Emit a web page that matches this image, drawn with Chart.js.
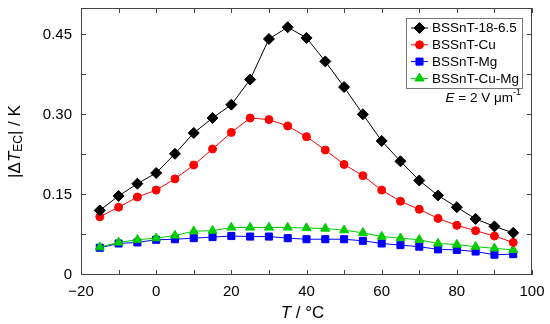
<!DOCTYPE html>
<html>
<head>
<meta charset="utf-8">
<script src="https://cdn.jsdelivr.net/npm/chart.js@4/dist/chart.umd.min.js"></script>
<style>
html, body { margin: 0; padding: 0; background: #fff; }
</style>
</head>
<body>
<canvas id="ecChart" width="550" height="324"></canvas>
<script>
// temperature (°C) and |dT_EC| (K) for each sample
const temps = [-15, -10, -5, 0, 5, 10, 15, 20, 25, 30, 35, 40, 45, 50, 55, 60, 65, 70, 75, 80, 85, 90, 95];
const bssnt = [0.121, 0.148, 0.171, 0.191, 0.227, 0.266, 0.294, 0.319, 0.366, 0.442, 0.464, 0.444, 0.400, 0.352, 0.301, 0.251, 0.213, 0.177, 0.149, 0.127, 0.105, 0.091, 0.079];
const bssntCu = [0.109, 0.127, 0.146, 0.159, 0.180, 0.206, 0.236, 0.267, 0.294, 0.291, 0.279, 0.259, 0.234, 0.207, 0.186, 0.159, 0.138, 0.123, 0.106, 0.093, 0.083, 0.073, 0.061];
const bssntMg = [0.051, 0.059, 0.061, 0.066, 0.067, 0.069, 0.071, 0.073, 0.072, 0.072, 0.069, 0.067, 0.067, 0.067, 0.064, 0.059, 0.056, 0.053, 0.048, 0.047, 0.044, 0.038, 0.039];
const bssntCuMg = [0.052, 0.061, 0.066, 0.069, 0.074, 0.082, 0.083, 0.089, 0.089, 0.089, 0.089, 0.088, 0.087, 0.084, 0.079, 0.072, 0.069, 0.066, 0.059, 0.057, 0.053, 0.050, 0.047];

const seriesNames = ["BSSnT-18-6.5", "BSSnT-Cu", "BSSnT-Mg", "BSSnT-Cu-Mg"];
const xTicks = [-20, 0, 20, 40, 60, 80, 100];
const yTicks = [0, 0.15, 0.30, 0.45];

const FONT = "'Liberation Sans', Arial, sans-serif";

function pts(vals) {
  return temps.map((t, i) => ({ x: t, y: vals[i] }));
}

// draw a run of text pieces with their own fonts / offsets
function drawRich(ctx, parts, x, y, align) {
  let total = 0;
  parts.forEach(p => { ctx.font = p.font; p.w = ctx.measureText(p.t).width; total += p.w; });
  let cx = align === "center" ? x - total / 2 : align === "right" ? x - total : x;
  parts.forEach(p => {
    ctx.font = p.font;
    ctx.fillText(p.t, cx, y + (p.dy || 0));
    cx += p.w;
  });
}

const framePlugin = {
  id: "frame",
  afterDraw(chart) {
    const { ctx, chartArea: a, scales } = chart;
    const x = scales.x, y = scales.y;
    ctx.save();
    ctx.strokeStyle = "#444";
    ctx.lineWidth = 1;
    ctx.strokeRect(a.left + 0.5, a.top + 0.5, a.right - a.left - 1, a.bottom - a.top - 1);

    // inward ticks on all four sides
    ctx.beginPath();
    for (let v = -20; v <= 100; v += 10) {
      const px = Math.round(x.getPixelForValue(v)) + 0.5;
      ctx.moveTo(px, a.bottom); ctx.lineTo(px, a.bottom - 5);
      ctx.moveTo(px, a.top); ctx.lineTo(px, a.top + 5);
    }
    for (let i = 0; i <= 6; i++) {
      const py = Math.round(y.getPixelForValue(i * 0.075)) - 0.5;
      ctx.moveTo(a.left, py); ctx.lineTo(a.left + 5, py);
      ctx.moveTo(a.right, py); ctx.lineTo(a.right - 5, py);
    }
    ctx.stroke();

    // axis titles
    ctx.fillStyle = "#000";
    ctx.textBaseline = "middle";
    drawRich(ctx, [
      { t: "T", font: "italic 17px " + FONT },
      { t: " / °C", font: "17px " + FONT }
    ], (a.left + a.right) / 2 - 4, 313, "center");

    ctx.save();
    ctx.translate(15, (a.top + a.bottom) / 2);
    ctx.rotate(-Math.PI / 2);
    drawRich(ctx, [
      { t: "|Δ", font: "17px " + FONT },
      { t: "T", font: "italic 17px " + FONT },
      { t: "EC", font: "12px " + FONT, dy: 4 },
      { t: "| / K", font: "17px " + FONT }
    ], 0, 0, "center");
    ctx.restore();

    // legend
    const lx = 406, ly = 18, lw = 116, lh = 70;
    ctx.fillStyle = "#fff";
    ctx.fillRect(lx, ly, lw, lh);
    ctx.strokeStyle = "#777";
    ctx.strokeRect(lx + 0.5, ly + 0.5, lw, lh);
    chart.data.datasets.forEach((ds, i) => {
      const ry = 28 + i * 16.8;
      ctx.strokeStyle = ds.borderColor;
      ctx.beginPath();
      ctx.moveTo(411, ry); ctx.lineTo(428, ry);
      ctx.stroke();
      ctx.fillStyle = ds.pointBackgroundColor;
      ctx.strokeStyle = ds.borderColor;
      Chart.helpers.drawPoint(ctx, {
        pointStyle: ds.pointStyle, rotation: 0,
        radius: ds.pointRadius, borderWidth: 1
      }, 419.5, ry);
      ctx.fillStyle = "#000";
      ctx.font = "13.5px " + FONT;
      ctx.textBaseline = "middle";
      ctx.fillText(ds.label, 432, ry + 0.5);
    });

    drawRich(ctx, [
      { t: "E", font: "italic 13.5px " + FONT },
      { t: " = 2 V μm", font: "13.5px " + FONT },
      { t: "-1", font: "9px " + FONT, dy: -5 }
    ], 521, 98, "right");
    ctx.restore();
  }
};

function series(label, vals, color, style, r, order) {
  return {
    label: label,
    data: pts(vals),
    borderColor: color,
    backgroundColor: color,
    pointBackgroundColor: color,
    pointBorderColor: color,
    borderWidth: 1,
    pointBorderWidth: 1,
    pointStyle: style,
    pointRadius: r,
    pointHoverRadius: r,
    tension: 0,
    order: order
  };
}

new Chart("ecChart", {
  type: "line",
  data: {
    datasets: [
      series(seriesNames[0], bssnt, "#000000", "rectRot", 5.5, 0),
      series(seriesNames[1], bssntCu, "#ff0000", "circle", 4, 1),
      series(seriesNames[2], bssntMg, "#0000ff", "rect", 5, 3),
      series(seriesNames[3], bssntCuMg, "#00cc00", "triangle", 5.2, 2)
    ]
  },
  options: {
    responsive: false,
    animation: false,
    layout: { autoPadding: false, padding: { left: 0, top: 8, right: 18, bottom: 0 } },
    plugins: {
      legend: { display: false },
      tooltip: { enabled: false }
    },
    scales: {
      x: {
        type: "linear",
        min: -20,
        max: 100,
        afterBuildTicks: s => { s.ticks = xTicks.map(v => ({ value: v })); },
        afterFit: s => { s.height = 49; s.paddingLeft = 0; s.paddingRight = 0; },
        grid: { display: false, drawTicks: false },
        border: { display: false },
        ticks: {
          autoSkip: false,
          maxRotation: 0,
          padding: 8,
          color: "#000",
          font: { family: FONT, size: 15 },
          callback: v => String(v).replace("-", "\u2212")
        }
      },
      y: {
        min: 0,
        max: 0.5,
        afterBuildTicks: s => { s.ticks = yTicks.map(v => ({ value: v })); },
        afterFit: s => { s.width = 81; s.paddingTop = 0; s.paddingBottom = 0; },
        grid: { display: false, drawTicks: false },
        border: { display: false },
        ticks: {
          autoSkip: false,
          padding: 9,
          color: "#000",
          font: { family: FONT, size: 15 },
          callback: v => v === 0 ? "0" : v.toFixed(2)
        }
      }
    }
  },
  plugins: [framePlugin]
});
</script>
</body>
</html>
